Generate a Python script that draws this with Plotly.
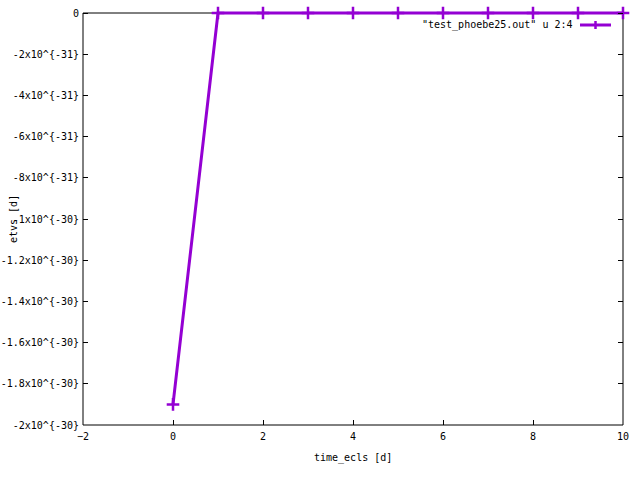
import plotly.graph_objects as go

time_ecls = [0, 1, 2, 3, 4, 5, 6, 7, 8, 9, 10]
etvs = [-1.9e-30, 0, 0, 0, 0, 0, 0, 0, 0, 0, 0]

y_tickvals = [0, -2e-31, -4e-31, -6e-31, -8e-31, -1e-30, -1.2e-30, -1.4e-30, -1.6e-30, -1.8e-30, -2e-30]
y_ticktext = ["0", "-2x10^{-31}", "-4x10^{-31}", "-6x10^{-31}", "-8x10^{-31}", "-1x10^{-30}",
              "-1.2x10^{-30}", "-1.4x10^{-30}", "-1.6x10^{-30}", "-1.8x10^{-30}", "-2x10^{-30}"]
x_tickvals = [-2, 0, 2, 4, 6, 8, 10]
legend_label = '"test_phoebe25.out" u 2:4'
color = "#9400D3"

FONT = dict(family="DejaVu Sans Mono", size=10, color="black")

# layout geometry (pixels)
L, R, T, B = 83, 623, 13, 425
EXTRA = 3  # extend plotting area above y=0 so the top line isn't clipped
W, H = 640, 480
ph = B - (T - EXTRA)
y_lo, y_hi = -2e-30, 0.0
y_top = y_hi + EXTRA / (B - T) * (y_hi - y_lo)
ytop_paper = (B - T) / ph

fig = go.Figure()
fig.add_trace(go.Scatter(
    x=time_ecls, y=etvs, mode="lines+markers",
    line=dict(color=color, width=3),
    marker=dict(symbol="cross-thin", size=9, line=dict(color=color, width=2.5)),
    cliponaxis=False, showlegend=False, hoverinfo="skip",
))

fig.update_layout(
    width=W, height=H,
    margin=dict(l=L, r=W - R, t=T - EXTRA, b=H - B, autoexpand=False),
    paper_bgcolor="white", plot_bgcolor="white",
    font=FONT,
    xaxis=dict(range=[-2, 10], tickvals=x_tickvals, ticks="inside", ticklen=5,
               showline=False, mirror=False,
               showgrid=False, zeroline=False, tickcolor="black", automargin=False,
               ticklabelstandoff=4),
    xaxis2=dict(range=[-2, 10], matches="x", overlaying="x", anchor="free",
                position=ytop_paper, side="top", tickvals=x_tickvals,
                ticks="inside", ticklen=5, showticklabels=False, showline=False,
                showgrid=False, zeroline=False, tickcolor="black", automargin=False),
    yaxis=dict(range=[y_lo, y_top], tickvals=y_tickvals, ticktext=y_ticktext,
               ticks="inside", ticklen=5, automargin=False, ticklabelstandoff=3,
               showline=False, mirror="ticks",
               showgrid=False, zeroline=False, tickcolor="black"),
)

# plot frame, beneath the data line
frame = dict(type="line", xref="paper", yref="paper", layer="below",
             line=dict(color="black", width=1))
fig.add_shape(**frame, x0=0, x1=1, y0=0, y1=0)
fig.add_shape(**frame, x0=0, x1=1, y0=ytop_paper, y1=ytop_paper)
fig.add_shape(**frame, x0=0, x1=0, y0=0, y1=ytop_paper)
fig.add_shape(**frame, x0=1, x1=1, y0=0, y1=ytop_paper)

# x-axis title
fig.add_annotation(text="time_ecls [d]", xref="paper", yref="paper", x=0.5, y=-(458 - B) / ph,
                   showarrow=False, font=FONT, xanchor="center", yanchor="middle")
# y-axis label (gnuplot places it overlapping tick labels)
fig.add_annotation(text="etvs [d]", xref="paper", yref="paper", x=(13 - L) / (R - L),
                   y=(B - 219) / ph,
                   textangle=-90, showarrow=False, font=FONT, xanchor="center", yanchor="middle")

# legend entry (gnuplot style: text then sample on the right)
ly = (B - 25) / ph
fig.add_annotation(text=legend_label, xref="paper", yref="paper",
                   x=(575 - L) / (R - L), y=ly,
                   showarrow=False, font=FONT, xanchor="right", yanchor="middle")
fig.add_shape(type="line", xref="paper", yref="paper",
              x0=(580 - L) / (R - L), x1=(611 - L) / (R - L), y0=ly, y1=ly,
              line=dict(color=color, width=3))
fig.add_shape(type="line", xref="paper", yref="paper",
              x0=(595.5 - L) / (R - L), x1=(595.5 - L) / (R - L),
              y0=(B - 21) / ph, y1=(B - 29) / ph,
              line=dict(color=color, width=2.5))

fig.write_html("out.html", config={"displayModeBar": False},
               post_script="document.body.style.margin='0';")
